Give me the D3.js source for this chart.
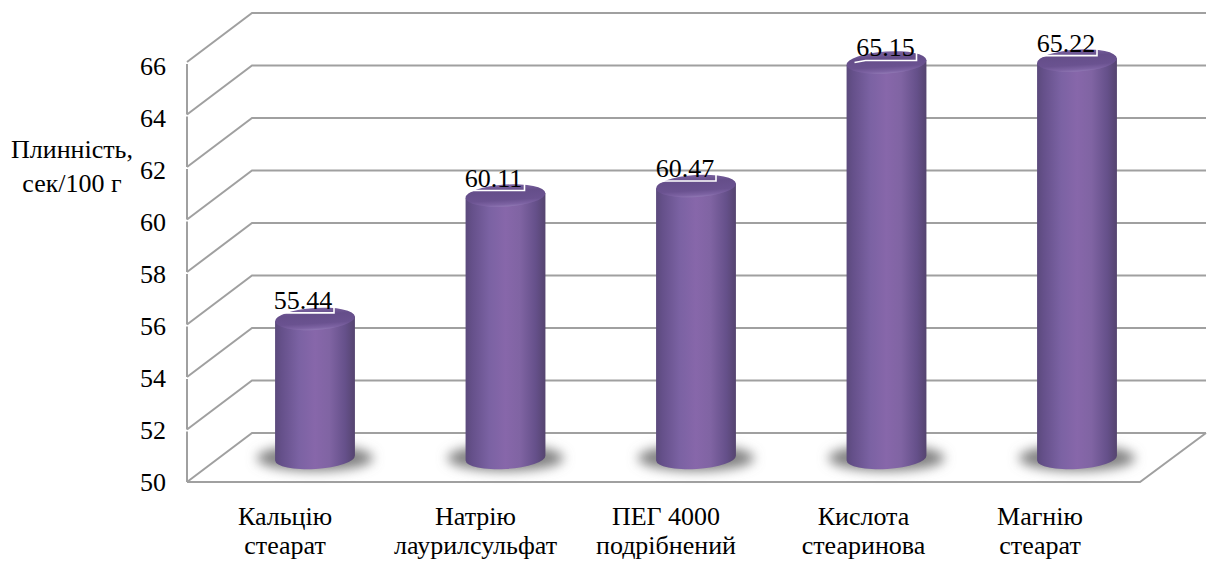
<!DOCTYPE html>
<html>
<head>
<meta charset="utf-8">
<script src="https://cdn.jsdelivr.net/npm/d3@7/dist/d3.min.js"></script>
<style>
html,body{margin:0;padding:0;background:#fff;overflow:hidden}
text{font-family:"Liberation Serif",serif;fill:#000}
</style>
</head>
<body>
<svg id="chart" width="1214" height="561"></svg>
<script>
// Flowability of tablet mass by excipient
const categories = [["Кальцію","стеарат"],["Натрію","лаурилсульфат"],["ПЕГ 4000","подрібнений"],["Кислота","стеаринова"],["Магнію","стеарат"]];
const values = [55.44, 60.11, 60.47, 65.15, 65.22];
const valueLabels = ["55.44", "60.11", "60.47", "65.15", "65.22"];
const tickValues = [50,52,54,56,58,60,62,64,66];
const axisTitle = ["Плинність,","сек/100 г"];

const svg = d3.select("#chart");
const defs = svg.append("defs");

// Oblique projection of the plot box
const depthX = 65, depthY = -49;
const frontLeft = 187, frontRight = 1140;
const y = d3.scaleLinear().domain([50,66]).range([482,62]);
const yLabel = d3.scaleLinear().domain([50,66]).range([482,66]);
const yBar = d3.scaleLinear().domain([50,66]).range([462.6,40]);
const barBase = 458;
const x = d3.scalePoint().domain(d3.range(values.length)).range([315,1077]);
const barRx = 40, barRy = 11, tilt = -3.5;

// Hand placement of the free-floating text boxes relative to their bars
const categoryShift = [-30,-30,-30,-23,-37];
const labelShift = [[-12,-10],[-12,-9],[-11,-9],[-1,-6],[-11,-9]];

const body = defs.append("linearGradient").attr("id","cyl");
[[0,"#5b4a7c"],[0.08,"#65508a"],[0.3,"#7b62a3"],[0.5,"#8767aa"],[0.68,"#8064a3"],[0.88,"#65508a"],[1,"#55446f"]]
  .forEach(([o,c]) => body.append("stop").attr("offset",o).attr("stop-color",c));
const cap = defs.append("linearGradient").attr("id","cap").attr("x1",0).attr("y1",1).attr("x2",0).attr("y2",0);
[[0,"#9078b4"],[0.1,"#7d63a3"],[0.3,"#6a5290"],[0.7,"#654e8a"],[1,"#7a62a0"]]
  .forEach(([o,c]) => cap.append("stop").attr("offset",o).attr("stop-color",c));
defs.append("filter").attr("id","soft").attr("x","-30%").attr("y","-100%").attr("width","160%").attr("height","300%")
  .append("feGaussianBlur").attr("stdDeviation",6);

// Walls, floor and gridlines
const lineColor = "#a0a0a0";
const grid = svg.append("g").attr("fill","none").attr("stroke",lineColor).attr("stroke-width",2);
grid.selectAll("path.grid").data(tickValues).join("path").attr("class","grid")
  .attr("d", d => `M${frontLeft},${y(d)}L${frontLeft+depthX},${y(d)+depthY}L${frontRight+depthX+1},${y(d)+depthY}`);
grid.selectAll("line.wall").data(d3.pairs(tickValues)).join("line").attr("class","wall")
  .attr("x1",frontLeft).attr("x2",frontLeft)
  .attr("y1",d => y(d[0])).attr("y2",d => y(d[1])+2);
grid.append("path").attr("d",`M${frontLeft},${y(50)}L${frontRight},${y(50)}L${frontRight+depthX+1},${y(50)+depthY}`);

// Tick labels
svg.append("g").selectAll("text").data(tickValues).join("text")
  .attr("x",166).attr("y",d => yLabel(d)).attr("dy","0.34em")
  .attr("text-anchor","end").attr("font-size",26).text(d => d);

// Axis title
svg.append("g").selectAll("text").data(axisTitle).join("text")
  .attr("x",72).attr("y",(d,i) => 149+i*34).attr("dy","0.34em")
  .attr("text-anchor","middle").attr("font-size",26).text(d => d);

// Cylinders
const edge = (cx, cy, side) => {
  const a = tilt*Math.PI/180;
  return [cx+side*barRx*Math.cos(a), cy+side*barRx*Math.sin(a)];
};
const bars = svg.append("g").selectAll("g").data(values).join("g");
bars.append("ellipse")
  .attr("cx",(d,i) => x(i)).attr("cy",458).attr("rx",58).attr("ry",13)
  .attr("fill","#808080").attr("filter","url(#soft)");
bars.append("path").attr("fill","url(#cyl)")
  .attr("d",(d,i) => {
    const cx = x(i), top = yBar(d);
    const [lx,ly] = edge(cx,top,-1), [rx,ry] = edge(cx,top,1);
    const [blx,bly] = edge(cx,barBase,-1), [brx,bry] = edge(cx,barBase,1);
    return `M${lx},${ly}L${blx},${bly}A${barRx},${barRy} ${tilt} 0 0 ${brx},${bry}L${rx},${ry}Z`;
  });
bars.append("ellipse")
  .attr("cx",(d,i) => x(i)).attr("cy",d => yBar(d)).attr("rx",barRx).attr("ry",barRy)
  .attr("transform",(d,i) => `rotate(${tilt} ${x(i)} ${yBar(d)})`)
  .attr("fill","url(#cap)");

// Value labels with their white leader outline
const labels = svg.append("g").selectAll("g").data(values).join("g")
  .attr("transform",(d,i) => `translate(${x(i)+labelShift[i][0]},${yBar(d)+labelShift[i][1]})`);
labels.append("path").attr("fill","none").attr("stroke","#fff").attr("stroke-width",1.6)
  .attr("d","M-31,6L-20,4L31,4L31,-4");
labels.append("text").attr("text-anchor","middle").attr("font-size",26)
  .text((d,i) => valueLabels[i]);

// Category labels
const cats = svg.append("g").selectAll("text").data(categories).join("text")
  .attr("text-anchor","middle").attr("font-size",26);
cats.each(function(d,i){
  d3.select(this).selectAll("tspan").data(d).join("tspan")
    .attr("x",x(i)+categoryShift[i])
    .attr("y",(t,k) => 525+k*29).text(t => t);
});
</script>
</body>
</html>
